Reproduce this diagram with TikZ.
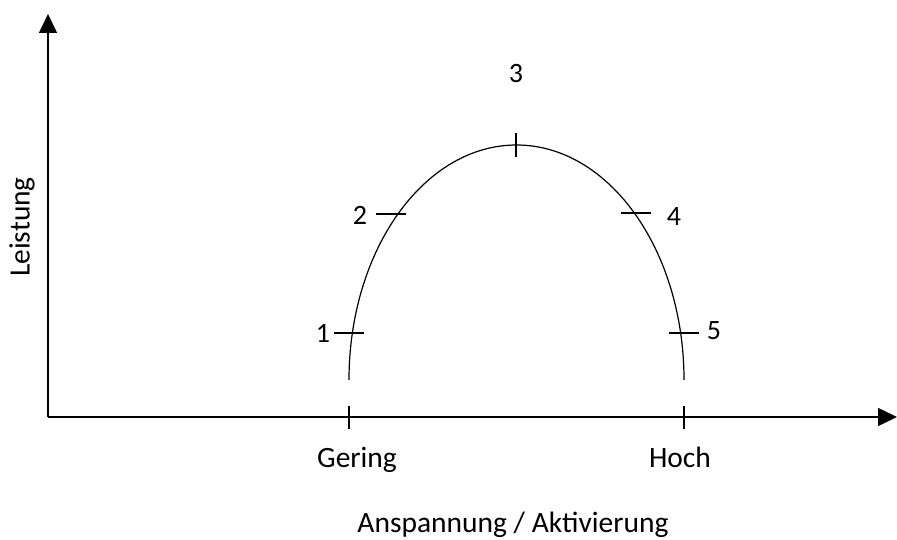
\documentclass[tikz,border=0pt]{standalone}
\usepackage{fontspec}
\setmainfont{Carlito}
\usetikzlibrary{arrows.meta}
\begin{document}
\begin{tikzpicture}[x=1pt,y=-1pt,
  axis/.style={line width=1.5pt,-{Triangle[length=19pt,width=18pt]}},
  tickmark/.style={line width=1.1pt},
  curve/.style={line width=1.2pt},
  lbl/.style={font=\fontsize{29.5}{35}\selectfont,inner sep=0pt},
  num/.style={font=\fontsize{28}{33}\selectfont,inner sep=0pt}]
\useasboundingbox (0,0) rectangle (897,540);
\coordinate (O) at (48,417);
\coordinate (ytop) at (48,14);
\coordinate (xend) at (897,417);
\draw[axis] (O) -- (ytop);
\draw[axis] (O) -- (xend);
% x ticks
\coordinate (g) at (349,417);
\coordinate (h) at (684,417);
\draw[tickmark] ([yshift=-12pt]g) -- ([yshift=11pt]g);
\draw[tickmark] ([yshift=-12pt]h) -- ([yshift=11pt]h);
% curve
\coordinate (cL) at (349,380);
\draw[curve] (cL) arc[start angle=180,end angle=0,x radius=167.5pt,y radius=235pt];
% curve ticks
\draw[tickmark] (334,333) -- (364,333);
\draw[tickmark] (376,214) -- (406,214);
\draw[tickmark] (516,133) -- (516,157);
\draw[tickmark] (621,213) -- (651,213);
\draw[tickmark] (669,333) -- (699,333);
% labels
\node[num] (n1) at (323,333) {1};
\node[num] (n2) at (360,215) {2};
\node[num] (n3) at (516,74) {3};
\node[num] (n4) at (674,217) {4};
\node[num] (n5) at (714,331) {5};
\node[lbl,anchor=base] (gering) at (357,467) {Gering};
\node[lbl,anchor=base] (hoch) at (680,467) {Hoch};
\node[lbl,anchor=base] (xl) at (513,532) {Anspannung / Aktivierung};
\node[lbl,rotate=90] (yl) at (22,227) {Leistung};
\end{tikzpicture}
\end{document}
